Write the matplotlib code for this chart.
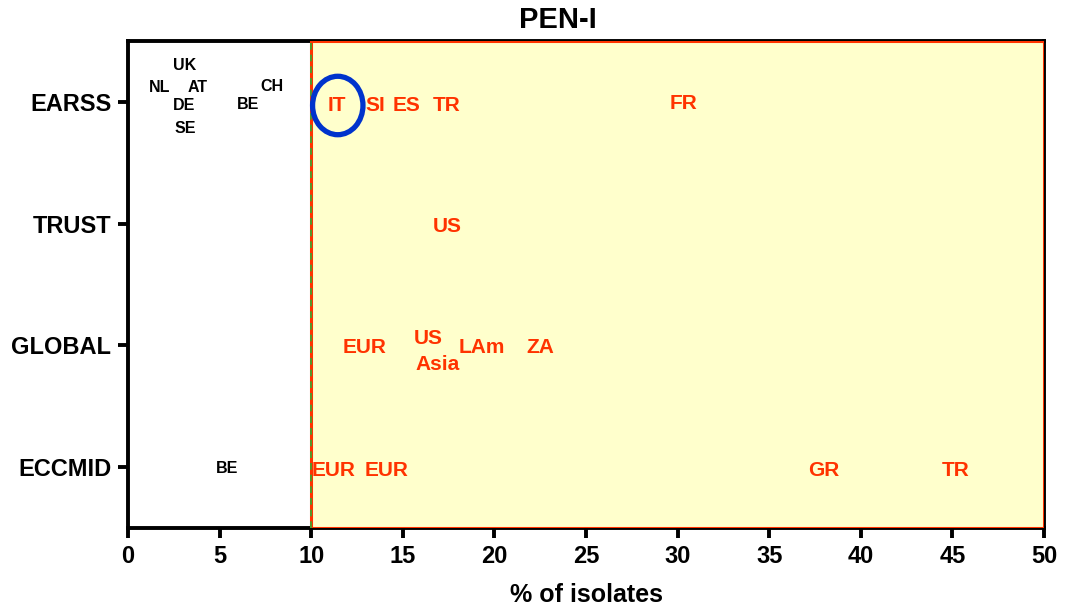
import matplotlib.pyplot as plt
from matplotlib.patches import Rectangle, Ellipse

plt.rcParams['font.family'] = ['Liberation Sans', 'DejaVu Sans']
plt.rcParams['font.weight'] = 'bold'

categories = ['ECCMID', 'GLOBAL', 'TRUST', 'EARSS']

# black labels (below 10 %)
low_labels = ['UK', 'NL', 'AT', 'DE', 'SE', 'BE', 'CH', 'BE']
low_x = [3.1, 1.75, 3.8, 3.05, 3.15, 6.55, 7.85, 5.4]
low_y = [4.30, 4.12, 4.12, 3.97, 3.78, 3.98, 4.13, 0.99]

# red labels (10 % or more)
high_labels = ['IT', 'SI', 'ES', 'TR', 'FR', 'US',
               'EUR', 'US', 'Asia', 'LAm', 'ZA',
               'EUR', 'EUR', 'GR', 'TR']
high_x = [11.4, 13.5, 15.2, 17.4, 30.3, 17.4,
          12.9, 16.4, 16.9, 19.3, 22.5,
          11.2, 14.1, 38.0, 45.2]
high_y = [3.97, 3.97, 3.97, 3.97, 3.99, 2.98,
          1.98, 2.06, 1.84, 1.98, 1.98,
          0.97, 0.97, 0.97, 0.97]

red = '#FF3300'

fig = plt.figure(figsize=(10.72, 6.05), dpi=100)
ax = fig.add_axes([0.1194, 0.1273, 0.8545, 0.8050])
ax.set_xlim(0, 50)
ax.set_ylim(0.5, 4.5)

# shaded resistant zone
ax.add_patch(Rectangle((10, 0.5), 40, 4.0, facecolor='#FFFFCC',
                       edgecolor=red, linewidth=2.2, zorder=1))
ax.axvline(10, color='#33AA33', linestyle=(0, (4, 3)), linewidth=1.2, zorder=2)

for lab, x, y in zip(low_labels, low_x, low_y):
    ax.text(x, y, lab, ha='center', va='center', fontsize=11.5,
            fontweight='bold', color='black', zorder=3)
for lab, x, y in zip(high_labels, high_x, high_y):
    ax.text(x, y, lab, ha='center', va='center', fontsize=15,
            fontweight='bold', color=red, zorder=3)

# highlight circle around IT
ax.add_patch(Ellipse((11.45, 3.97), 2.75, 0.48, fill=False,
                     edgecolor='#0033CC', linewidth=3.8, zorder=4))

ax.set_yticks([1, 2, 3, 4])
ax.set_yticklabels(categories)
ax.set_xticks(range(0, 51, 5))
for s in ax.spines.values():
    s.set_linewidth(2.8)
    s.set_zorder(0)
ax.tick_params(width=2.8, length=7, labelsize=17, pad=5)
for t in ax.get_xticklabels() + ax.get_yticklabels():
    t.set_fontweight('bold')

fig.text(558 / 1072, 1 - 20 / 605, 'PEN-I', fontsize=21, fontweight='bold',
         ha='center', va='center')
ax.set_xlabel('% of isolates', fontsize=18, fontweight='bold', labelpad=11)

fig.savefig('out.png', dpi=100, facecolor='white')
